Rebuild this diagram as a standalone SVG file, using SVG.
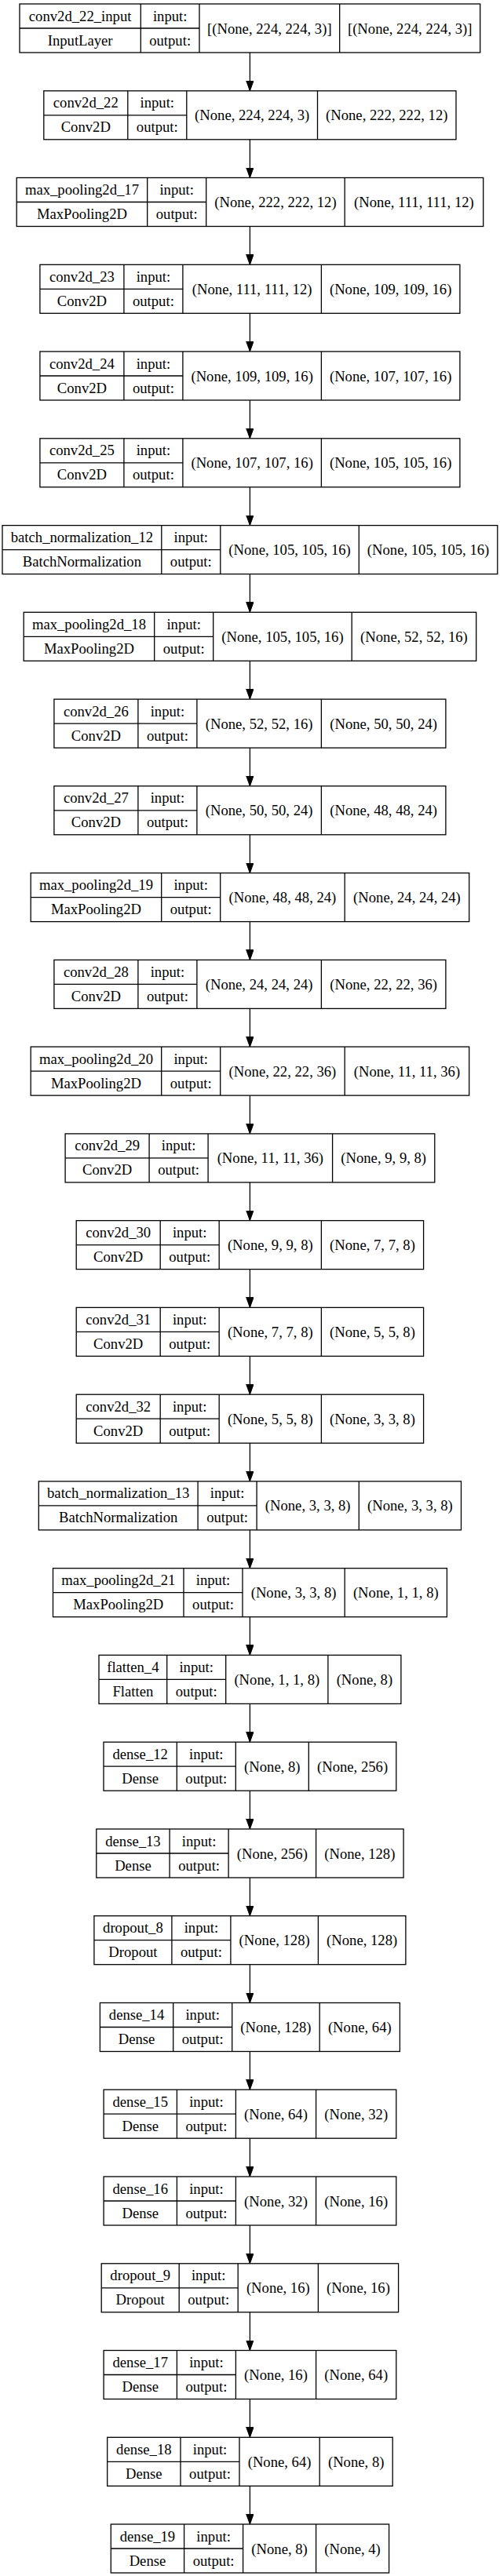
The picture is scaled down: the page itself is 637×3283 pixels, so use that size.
<svg xmlns="http://www.w3.org/2000/svg" width="637" height="3283" viewBox="0 0 637 3283">
<style>
.bx{fill:#fff;stroke:#000;stroke-width:1.3}
.dv{fill:none;stroke:#000;stroke-width:1.3}
text{font-family:"Liberation Serif","Times New Roman",serif;font-size:18.67px;fill:#000;text-anchor:middle}
.e{stroke:#000;stroke-width:1.3;fill:none;marker-end:url(#ah)}
</style>
<defs>
<marker id="ah" markerUnits="userSpaceOnUse" markerWidth="14" markerHeight="10" refX="13" refY="4.7" orient="auto">
<path d="M0,0 L13,4.7 L0,9.4 Z" fill="#000" stroke="#000" stroke-width="1"/>
</marker>
</defs>
<rect x="0" y="0" width="637" height="3283" fill="#fff"/>

<g id="n0"><rect class="bx" x="25" y="5" width="586.7" height="62"/><path class="dv" d="M179.3 5V67M254 5V67M432.7 5V67M25 36H254"/>
<text x="102.15" y="26.5">conv2d_22_input</text><text x="102.15" y="57.5">InputLayer</text><text x="216.65" y="26.5">input:</text><text x="216.65" y="57.5">output:</text><text x="343.35" y="42.5">[(None, 224, 224, 3)]</text><text x="522.2" y="42.5">[(None, 224, 224, 3)]</text></g>

<g id="n1"><rect class="bx" x="55.8" y="115.8" width="525.2" height="62"/><path class="dv" d="M162.8 115.8V177.8M237.8 115.8V177.8M404.5 115.8V177.8M55.8 146.8H237.8"/>
<text x="109.3" y="137.3">conv2d_22</text><text x="109.3" y="168.3">Conv2D</text><text x="200.3" y="137.3">input:</text><text x="200.3" y="168.3">output:</text><text x="321.15" y="153.3">(None, 224, 224, 3)</text><text x="492.75" y="153.3">(None, 222, 222, 12)</text></g>

<g id="n2"><rect class="bx" x="21.2" y="226.5" width="594.5" height="62"/><path class="dv" d="M187.7 226.5V288.5M262.7 226.5V288.5M439.2 226.5V288.5M21.2 257.5H262.7"/>
<text x="104.45" y="248">max_pooling2d_17</text><text x="104.45" y="279">MaxPooling2D</text><text x="225.2" y="248">input:</text><text x="225.2" y="279">output:</text><text x="350.95" y="264">(None, 222, 222, 12)</text><text x="527.45" y="264">(None, 111, 111, 12)</text></g>

<g id="n3"><rect class="bx" x="50.9" y="337.3" width="535" height="62"/><path class="dv" d="M157.9 337.3V399.3M232.9 337.3V399.3M409.4 337.3V399.3M50.9 368.3H232.9"/>
<text x="104.4" y="358.8">conv2d_23</text><text x="104.4" y="389.8">Conv2D</text><text x="195.4" y="358.8">input:</text><text x="195.4" y="389.8">output:</text><text x="321.15" y="374.8">(None, 111, 111, 12)</text><text x="497.65" y="374.8">(None, 109, 109, 16)</text></g>

<g id="n4"><rect class="bx" x="50.9" y="448" width="535" height="62"/><path class="dv" d="M157.9 448V510M232.9 448V510M409.4 448V510M50.9 479H232.9"/>
<text x="104.4" y="469.5">conv2d_24</text><text x="104.4" y="500.5">Conv2D</text><text x="195.4" y="469.5">input:</text><text x="195.4" y="500.5">output:</text><text x="321.15" y="485.5">(None, 109, 109, 16)</text><text x="497.65" y="485.5">(None, 107, 107, 16)</text></g>

<g id="n5"><rect class="bx" x="50.9" y="558.8" width="535" height="62"/><path class="dv" d="M157.9 558.8V620.8M232.9 558.8V620.8M409.4 558.8V620.8M50.9 589.8H232.9"/>
<text x="104.4" y="580.3">conv2d_25</text><text x="104.4" y="611.3">Conv2D</text><text x="195.4" y="580.3">input:</text><text x="195.4" y="611.3">output:</text><text x="321.15" y="596.3">(None, 107, 107, 16)</text><text x="497.65" y="596.3">(None, 105, 105, 16)</text></g>

<g id="n6"><rect class="bx" x="3" y="669.6" width="630.8" height="62"/><path class="dv" d="M205.8 669.6V731.6M280.8 669.6V731.6M457.3 669.6V731.6M3 700.6H280.8"/>
<text x="104.4" y="691.1">batch_normalization_12</text><text x="104.4" y="722.1">BatchNormalization</text><text x="243.3" y="691.1">input:</text><text x="243.3" y="722.1">output:</text><text x="369.05" y="707.1">(None, 105, 105, 16)</text><text x="545.55" y="707.1">(None, 105, 105, 16)</text></g>

<g id="n7"><rect class="bx" x="30.2" y="780.3" width="576.5" height="62"/><path class="dv" d="M196.7 780.3V842.3M271.7 780.3V842.3M448.2 780.3V842.3M30.2 811.3H271.7"/>
<text x="113.45" y="801.8">max_pooling2d_18</text><text x="113.45" y="832.8">MaxPooling2D</text><text x="234.2" y="801.8">input:</text><text x="234.2" y="832.8">output:</text><text x="359.95" y="817.8">(None, 105, 105, 16)</text><text x="527.45" y="817.8">(None, 52, 52, 16)</text></g>

<g id="n8"><rect class="bx" x="68.9" y="891.1" width="499" height="62"/><path class="dv" d="M175.9 891.1V953.1M250.9 891.1V953.1M409.4 891.1V953.1M68.9 922.1H250.9"/>
<text x="122.4" y="912.6">conv2d_26</text><text x="122.4" y="943.6">Conv2D</text><text x="213.4" y="912.6">input:</text><text x="213.4" y="943.6">output:</text><text x="330.15" y="928.6">(None, 52, 52, 16)</text><text x="488.65" y="928.6">(None, 50, 50, 24)</text></g>

<g id="n9"><rect class="bx" x="68.9" y="1001.8" width="499" height="62"/><path class="dv" d="M175.9 1001.8V1063.8M250.9 1001.8V1063.8M409.4 1001.8V1063.8M68.9 1032.8H250.9"/>
<text x="122.4" y="1023.3">conv2d_27</text><text x="122.4" y="1054.3">Conv2D</text><text x="213.4" y="1023.3">input:</text><text x="213.4" y="1054.3">output:</text><text x="330.15" y="1039.3">(None, 50, 50, 24)</text><text x="488.65" y="1039.3">(None, 48, 48, 24)</text></g>

<g id="n10"><rect class="bx" x="39.2" y="1112.6" width="558.5" height="62"/><path class="dv" d="M205.7 1112.6V1174.6M280.7 1112.6V1174.6M439.2 1112.6V1174.6M39.2 1143.6H280.7"/>
<text x="122.45" y="1134.1">max_pooling2d_19</text><text x="122.45" y="1165.1">MaxPooling2D</text><text x="243.2" y="1134.1">input:</text><text x="243.2" y="1165.1">output:</text><text x="359.95" y="1150.1">(None, 48, 48, 24)</text><text x="518.45" y="1150.1">(None, 24, 24, 24)</text></g>

<g id="n11"><rect class="bx" x="68.9" y="1223.4" width="499" height="62"/><path class="dv" d="M175.9 1223.4V1285.4M250.9 1223.4V1285.4M409.4 1223.4V1285.4M68.9 1254.4H250.9"/>
<text x="122.4" y="1244.9">conv2d_28</text><text x="122.4" y="1275.9">Conv2D</text><text x="213.4" y="1244.9">input:</text><text x="213.4" y="1275.9">output:</text><text x="330.15" y="1260.9">(None, 24, 24, 24)</text><text x="488.65" y="1260.9">(None, 22, 22, 36)</text></g>

<g id="n12"><rect class="bx" x="39.2" y="1334.1" width="558.5" height="62"/><path class="dv" d="M205.7 1334.1V1396.1M280.7 1334.1V1396.1M439.2 1334.1V1396.1M39.2 1365.1H280.7"/>
<text x="122.45" y="1355.6">max_pooling2d_20</text><text x="122.45" y="1386.6">MaxPooling2D</text><text x="243.2" y="1355.6">input:</text><text x="243.2" y="1386.6">output:</text><text x="359.95" y="1371.6">(None, 22, 22, 36)</text><text x="518.45" y="1371.6">(None, 11, 11, 36)</text></g>

<g id="n13"><rect class="bx" x="83.1" y="1444.9" width="470.7" height="62"/><path class="dv" d="M190.1 1444.9V1506.9M265.1 1444.9V1506.9M423.6 1444.9V1506.9M83.1 1475.9H265.1"/>
<text x="136.6" y="1466.4">conv2d_29</text><text x="136.6" y="1497.4">Conv2D</text><text x="227.6" y="1466.4">input:</text><text x="227.6" y="1497.4">output:</text><text x="344.35" y="1482.4">(None, 11, 11, 36)</text><text x="488.7" y="1482.4">(None, 9, 9, 8)</text></g>

<g id="n14"><rect class="bx" x="97.2" y="1555.6" width="442.4" height="62"/><path class="dv" d="M204.2 1555.6V1617.6M279.2 1555.6V1617.6M409.4 1555.6V1617.6M97.2 1586.6H279.2"/>
<text x="150.7" y="1577.1">conv2d_30</text><text x="150.7" y="1608.1">Conv2D</text><text x="241.7" y="1577.1">input:</text><text x="241.7" y="1608.1">output:</text><text x="344.3" y="1593.1">(None, 9, 9, 8)</text><text x="474.5" y="1593.1">(None, 7, 7, 8)</text></g>

<g id="n15"><rect class="bx" x="97.2" y="1666.4" width="442.4" height="62"/><path class="dv" d="M204.2 1666.4V1728.4M279.2 1666.4V1728.4M409.4 1666.4V1728.4M97.2 1697.4H279.2"/>
<text x="150.7" y="1687.9">conv2d_31</text><text x="150.7" y="1718.9">Conv2D</text><text x="241.7" y="1687.9">input:</text><text x="241.7" y="1718.9">output:</text><text x="344.3" y="1703.9">(None, 7, 7, 8)</text><text x="474.5" y="1703.9">(None, 5, 5, 8)</text></g>

<g id="n16"><rect class="bx" x="97.2" y="1777.2" width="442.4" height="62"/><path class="dv" d="M204.2 1777.2V1839.2M279.2 1777.2V1839.2M409.4 1777.2V1839.2M97.2 1808.2H279.2"/>
<text x="150.7" y="1798.7">conv2d_32</text><text x="150.7" y="1829.7">Conv2D</text><text x="241.7" y="1798.7">input:</text><text x="241.7" y="1829.7">output:</text><text x="344.3" y="1814.7">(None, 5, 5, 8)</text><text x="474.5" y="1814.7">(None, 3, 3, 8)</text></g>

<g id="n17"><rect class="bx" x="49.3" y="1887.9" width="538.2" height="62"/><path class="dv" d="M252.1 1887.9V1949.9M327.1 1887.9V1949.9M457.3 1887.9V1949.9M49.3 1918.9H327.1"/>
<text x="150.7" y="1909.4">batch_normalization_13</text><text x="150.7" y="1940.4">BatchNormalization</text><text x="289.6" y="1909.4">input:</text><text x="289.6" y="1940.4">output:</text><text x="392.2" y="1925.4">(None, 3, 3, 8)</text><text x="522.4" y="1925.4">(None, 3, 3, 8)</text></g>

<g id="n18"><rect class="bx" x="67.5" y="1998.7" width="501.9" height="62"/><path class="dv" d="M234 1998.7V2060.7M309 1998.7V2060.7M439.2 1998.7V2060.7M67.5 2029.7H309"/>
<text x="150.75" y="2020.2">max_pooling2d_21</text><text x="150.75" y="2051.2">MaxPooling2D</text><text x="271.5" y="2020.2">input:</text><text x="271.5" y="2051.2">output:</text><text x="374.1" y="2036.2">(None, 3, 3, 8)</text><text x="504.3" y="2036.2">(None, 1, 1, 8)</text></g>

<g id="n19"><rect class="bx" x="126" y="2109.4" width="384.9" height="62"/><path class="dv" d="M212.7 2109.4V2171.4M287.7 2109.4V2171.4M417.9 2109.4V2171.4M126 2140.4H287.7"/>
<text x="169.35" y="2130.9">flatten_4</text><text x="169.35" y="2161.9">Flatten</text><text x="250.2" y="2130.9">input:</text><text x="250.2" y="2161.9">output:</text><text x="352.8" y="2146.9">(None, 1, 1, 8)</text><text x="464.4" y="2146.9">(None, 8)</text></g>

<g id="n20"><rect class="bx" x="132" y="2220.2" width="372.8" height="62"/><path class="dv" d="M225.3 2220.2V2282.2M300.3 2220.2V2282.2M393.3 2220.2V2282.2M132 2251.2H300.3"/>
<text x="178.65" y="2241.7">dense_12</text><text x="178.65" y="2272.7">Dense</text><text x="262.8" y="2241.7">input:</text><text x="262.8" y="2272.7">output:</text><text x="346.8" y="2257.7">(None, 8)</text><text x="449.05" y="2257.7">(None, 256)</text></g>

<g id="n21"><rect class="bx" x="122.8" y="2331" width="391.3" height="62"/><path class="dv" d="M216.1 2331V2393M291.1 2331V2393M402.6 2331V2393M122.8 2362H291.1"/>
<text x="169.45" y="2352.5">dense_13</text><text x="169.45" y="2383.5">Dense</text><text x="253.6" y="2352.5">input:</text><text x="253.6" y="2383.5">output:</text><text x="346.85" y="2368.5">(None, 256)</text><text x="458.35" y="2368.5">(None, 128)</text></g>

<g id="n22"><rect class="bx" x="119.9" y="2441.7" width="397" height="62"/><path class="dv" d="M218.9 2441.7V2503.7M293.9 2441.7V2503.7M405.4 2441.7V2503.7M119.9 2472.7H293.9"/>
<text x="169.4" y="2463.2">dropout_8</text><text x="169.4" y="2494.2">Dropout</text><text x="256.4" y="2463.2">input:</text><text x="256.4" y="2494.2">output:</text><text x="349.65" y="2479.2">(None, 128)</text><text x="461.15" y="2479.2">(None, 128)</text></g>

<g id="n23"><rect class="bx" x="127.4" y="2552.5" width="382" height="62"/><path class="dv" d="M220.7 2552.5V2614.5M295.7 2552.5V2614.5M407.2 2552.5V2614.5M127.4 2583.5H295.7"/>
<text x="174.05" y="2574">dense_14</text><text x="174.05" y="2605">Dense</text><text x="258.2" y="2574">input:</text><text x="258.2" y="2605">output:</text><text x="351.45" y="2590">(None, 128)</text><text x="458.3" y="2590">(None, 64)</text></g>

<g id="n24"><rect class="bx" x="132.1" y="2663.2" width="372.7" height="62"/><path class="dv" d="M225.4 2663.2V2725.2M300.4 2663.2V2725.2M402.6 2663.2V2725.2M132.1 2694.2H300.4"/>
<text x="178.75" y="2684.7">dense_15</text><text x="178.75" y="2715.7">Dense</text><text x="262.9" y="2684.7">input:</text><text x="262.9" y="2715.7">output:</text><text x="351.5" y="2700.7">(None, 64)</text><text x="453.7" y="2700.7">(None, 32)</text></g>

<g id="n25"><rect class="bx" x="132.1" y="2774" width="372.7" height="62"/><path class="dv" d="M225.4 2774V2836M300.4 2774V2836M402.6 2774V2836M132.1 2805H300.4"/>
<text x="178.75" y="2795.5">dense_16</text><text x="178.75" y="2826.5">Dense</text><text x="262.9" y="2795.5">input:</text><text x="262.9" y="2826.5">output:</text><text x="351.5" y="2811.5">(None, 32)</text><text x="453.7" y="2811.5">(None, 16)</text></g>

<g id="n26"><rect class="bx" x="129.2" y="2884.8" width="378.4" height="62"/><path class="dv" d="M228.2 2884.8V2946.8M303.2 2884.8V2946.8M405.4 2884.8V2946.8M129.2 2915.8H303.2"/>
<text x="178.7" y="2906.3">dropout_9</text><text x="178.7" y="2937.3">Dropout</text><text x="265.7" y="2906.3">input:</text><text x="265.7" y="2937.3">output:</text><text x="354.3" y="2922.3">(None, 16)</text><text x="456.5" y="2922.3">(None, 16)</text></g>

<g id="n27"><rect class="bx" x="132.1" y="2995.5" width="372.7" height="62"/><path class="dv" d="M225.4 2995.5V3057.5M300.4 2995.5V3057.5M402.6 2995.5V3057.5M132.1 3026.5H300.4"/>
<text x="178.75" y="3017">dense_17</text><text x="178.75" y="3048">Dense</text><text x="262.9" y="3017">input:</text><text x="262.9" y="3048">output:</text><text x="351.5" y="3033">(None, 16)</text><text x="453.7" y="3033">(None, 64)</text></g>

<g id="n28"><rect class="bx" x="136.7" y="3106.3" width="363.5" height="62"/><path class="dv" d="M230 3106.3V3168.3M305 3106.3V3168.3M407.2 3106.3V3168.3M136.7 3137.3H305"/>
<text x="183.35" y="3127.8">dense_18</text><text x="183.35" y="3158.8">Dense</text><text x="267.5" y="3127.8">input:</text><text x="267.5" y="3158.8">output:</text><text x="356.1" y="3143.8">(None, 64)</text><text x="453.7" y="3143.8">(None, 8)</text></g>

<g id="n29"><rect class="bx" x="141.3" y="3217" width="354.3" height="62"/><path class="dv" d="M234.6 3217V3279M309.6 3217V3279M402.6 3217V3279M141.3 3248H309.6"/>
<text x="187.95" y="3238.5">dense_19</text><text x="187.95" y="3269.5">Dense</text><text x="272.1" y="3238.5">input:</text><text x="272.1" y="3269.5">output:</text><text x="356.1" y="3254.5">(None, 8)</text><text x="449.1" y="3254.5">(None, 4)</text></g>

<g id="edges">
<line class="e" x1="318.4" y1="67" x2="318.4" y2="115.8"/>
<line class="e" x1="318.4" y1="177.8" x2="318.4" y2="226.5"/>
<line class="e" x1="318.4" y1="288.5" x2="318.4" y2="337.3"/>
<line class="e" x1="318.4" y1="399.3" x2="318.4" y2="448"/>
<line class="e" x1="318.4" y1="510" x2="318.4" y2="558.8"/>
<line class="e" x1="318.4" y1="620.8" x2="318.4" y2="669.6"/>
<line class="e" x1="318.4" y1="731.6" x2="318.4" y2="780.3"/>
<line class="e" x1="318.4" y1="842.3" x2="318.4" y2="891.1"/>
<line class="e" x1="318.4" y1="953.1" x2="318.4" y2="1001.8"/>
<line class="e" x1="318.4" y1="1063.8" x2="318.4" y2="1112.6"/>
<line class="e" x1="318.4" y1="1174.6" x2="318.4" y2="1223.4"/>
<line class="e" x1="318.4" y1="1285.4" x2="318.4" y2="1334.1"/>
<line class="e" x1="318.4" y1="1396.1" x2="318.4" y2="1444.9"/>
<line class="e" x1="318.4" y1="1506.9" x2="318.4" y2="1555.6"/>
<line class="e" x1="318.4" y1="1617.6" x2="318.4" y2="1666.4"/>
<line class="e" x1="318.4" y1="1728.4" x2="318.4" y2="1777.2"/>
<line class="e" x1="318.4" y1="1839.2" x2="318.4" y2="1887.9"/>
<line class="e" x1="318.4" y1="1949.9" x2="318.4" y2="1998.7"/>
<line class="e" x1="318.4" y1="2060.7" x2="318.4" y2="2109.4"/>
<line class="e" x1="318.4" y1="2171.4" x2="318.4" y2="2220.2"/>
<line class="e" x1="318.4" y1="2282.2" x2="318.4" y2="2331"/>
<line class="e" x1="318.4" y1="2393" x2="318.4" y2="2441.7"/>
<line class="e" x1="318.4" y1="2503.7" x2="318.4" y2="2552.5"/>
<line class="e" x1="318.4" y1="2614.5" x2="318.4" y2="2663.2"/>
<line class="e" x1="318.4" y1="2725.2" x2="318.4" y2="2774"/>
<line class="e" x1="318.4" y1="2836" x2="318.4" y2="2884.8"/>
<line class="e" x1="318.4" y1="2946.8" x2="318.4" y2="2995.5"/>
<line class="e" x1="318.4" y1="3057.5" x2="318.4" y2="3106.3"/>
<line class="e" x1="318.4" y1="3168.3" x2="318.4" y2="3217"/>
</g>
</svg>
